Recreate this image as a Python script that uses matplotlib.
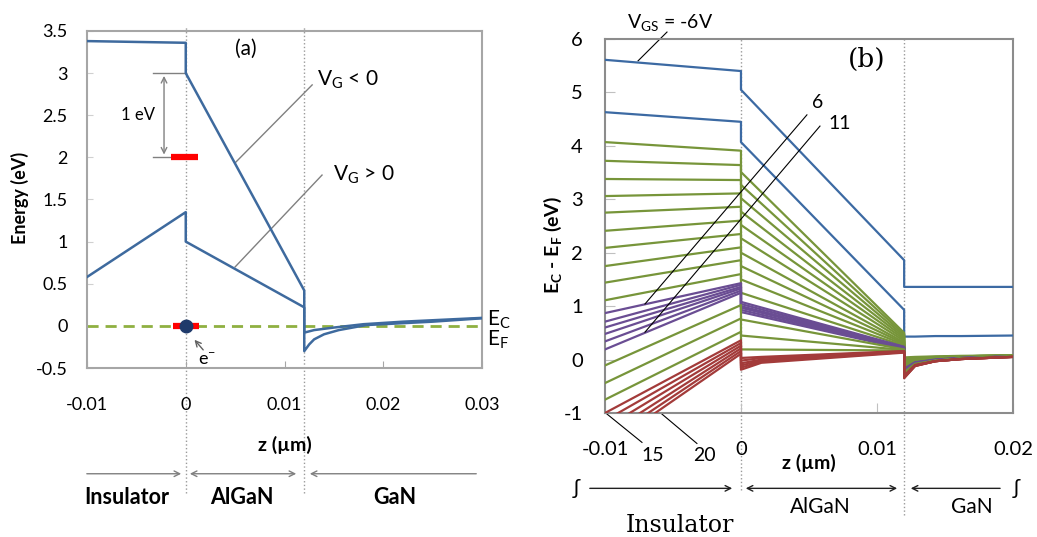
import matplotlib
matplotlib.use('Agg')
import matplotlib.pyplot as plt

plt.rcParams['font.family'] = ['Lato', 'DejaVu Sans']
plt.rcParams['mathtext.fontset'] = 'custom'
plt.rcParams['mathtext.rm'] = 'Lato'
plt.rcParams['mathtext.it'] = 'Lato:italic'
plt.rcParams['mathtext.bf'] = 'Lato:bold'

# ---------------- panel (a) data ----------------
a_z_neg = [-0.01, 0, 0, 0.012, 0.012, 0.013, 0.015, 0.018, 0.022, 0.03]
a_e_neg = [3.38, 3.36, 3.0, 0.42, -0.08, -0.05, -0.02, 0.02, 0.05, 0.095]
a_z_pos = [-0.01, 0, 0, 0.012, 0.012, 0.0125, 0.013, 0.014, 0.0155, 0.0183, 0.025, 0.03]
a_e_pos = [0.58, 1.35, 1.0, 0.22, -0.30, -0.22, -0.16, -0.10, -0.05, 0.01, 0.05, 0.09]
a_xticks = [-0.01, 0, 0.01, 0.02, 0.03]
a_xticklabels = ['-0.01', '0', '0.01', '0.02', '0.03']
a_yticks = [-0.5, 0, 0.5, 1, 1.5, 2, 2.5, 3, 3.5]
a_yticklabels = ['-0.5', '0', '0.5', '1', '1.5', '2', '2.5', '3', '3.5']

# ---------------- panel (b) data ----------------
# one line per V_GS step, -6 V ... 20 V
vgs = [-6, -5, -4, -3, -2, -1, 0, 1, 2, 3, 4, 5, 6, 7, 8, 9, 10, 11,
       12, 13, 14, 15, 16, 17, 18, 19, 20]
line_group = (['blue'] * 2 + ['green'] * 10 + ['purple'] * 6
              + ['green'] * 3 + ['red'] * 6)

# insulator, z = -0.01
ins_left = [5.61, 4.63,
            4.07, 3.72, 3.38, 3.06, 2.75, 2.41, 2.09, 1.75, 1.44, 1.11,
            0.87, 0.71, 0.60, 0.48, 0.34, 0.19,
            -0.11, -0.44, -0.75,
            -1.0, -1.14, -1.28, -1.42, -1.54, -1.65]
# insulator side of z = 0
ins_right = [5.40, 4.45,
             3.91, 3.64, 3.36, 3.11, 2.86, 2.60, 2.35, 2.10, 1.86, 1.60,
             1.43, 1.40, 1.36, 1.33, 1.29, 1.25,
             1.02, 0.77, 0.52,
             0.36, 0.31, 0.26, 0.21, 0.16, 0.11]
# AlGaN side of z = 0
alg_left = [5.05, 4.07,
            3.51, 3.27, 3.02, 2.77, 2.52, 2.27, 2.00, 1.75, 1.50, 1.25,
            1.08, 1.04, 1.00, 0.97, 0.93, 0.89,
            0.75, 0.45, 0.19,
            0.03, -0.02, -0.07, -0.11, -0.15, -0.19]
# red lines bend near the interface (z = 0.0015)
red_knee_z = 0.0015
red_knee = [0.05, 0.03, 0.0, -0.02, -0.04, -0.06]
# AlGaN side of z = 0.012
alg_right = [1.86, 0.93,
             0.50, 0.47, 0.44, 0.41, 0.38, 0.35, 0.32, 0.30, 0.28, 0.26,
             0.24, 0.23, 0.22, 0.22, 0.21, 0.20,
             0.19, 0.18, 0.17,
             0.16, 0.15, 0.15, 0.14, 0.14, 0.13]
# GaN
gan_z = [0.012, 0.0128, 0.0143, 0.0162, 0.02]
gan_e = [
    [1.36, 1.36, 1.36, 1.36, 1.36],
    [0.43, 0.43, 0.44, 0.44, 0.45],
    [0.04, 0.05, 0.06, 0.07, 0.08],
    [0.02, 0.04, 0.05, 0.06, 0.08],
    [0.00, 0.03, 0.05, 0.06, 0.08],
    [-0.02, 0.02, 0.04, 0.06, 0.08],
    [-0.04, 0.01, 0.04, 0.06, 0.08],
    [-0.06, 0.00, 0.03, 0.05, 0.07],
    [-0.08, -0.01, 0.03, 0.05, 0.07],
    [-0.10, -0.02, 0.02, 0.05, 0.07],
    [-0.12, -0.03, 0.02, 0.04, 0.07],
    [-0.14, -0.04, 0.01, 0.04, 0.07],
    [-0.17, -0.05, 0.00, 0.03, 0.06],
    [-0.18, -0.06, 0.00, 0.03, 0.06],
    [-0.19, -0.06, -0.01, 0.03, 0.06],
    [-0.20, -0.07, -0.01, 0.02, 0.06],
    [-0.21, -0.07, -0.01, 0.02, 0.06],
    [-0.22, -0.08, -0.02, 0.02, 0.06],
    [-0.24, -0.08, -0.02, 0.02, 0.06],
    [-0.26, -0.09, -0.02, 0.02, 0.06],
    [-0.28, -0.10, -0.02, 0.02, 0.06],
    [-0.30, -0.10, -0.03, 0.01, 0.05],
    [-0.31, -0.11, -0.03, 0.01, 0.05],
    [-0.32, -0.11, -0.03, 0.01, 0.05],
    [-0.33, -0.12, -0.03, 0.01, 0.05],
    [-0.34, -0.12, -0.03, 0.01, 0.05],
    [-0.35, -0.12, -0.03, 0.01, 0.05],
]
b_xticks = [-0.01, 0, 0.01, 0.02]
b_xticklabels = ['-0.01', '0', '0.01', '0.02']
b_yticks = [-1, 0, 1, 2, 3, 4, 5, 6]
b_yticklabels = ['-1', '0', '1', '2', '3', '4', '5', '6']

colors = {'blue': '#3C6AA3', 'green': '#77953A', 'purple': '#6A4D93', 'red': '#A33B3A'}

fig = plt.figure(figsize=(10.37, 5.37), dpi=100)

# ================= panel (a) =================
ax = fig.add_axes([0.0839, 0.3147, 0.3809, 0.6276])
ax.set_xlim(-0.01, 0.03)
ax.set_ylim(-0.5, 3.5)
for s in ax.spines.values():
    s.set_color('#A6A6A6')
    s.set_linewidth(1.5)
ax.set_xticks(a_xticks)
ax.set_xticklabels(a_xticklabels)
ax.set_yticks(a_yticks)
ax.set_yticklabels(a_yticklabels)
ax.tick_params(axis='x', direction='in', length=5, color='#A6A6A6', pad=21, labelsize=13)
ax.tick_params(axis='y', direction='in', length=4, color='#D0D0D0', pad=14, labelsize=13)

# dotted layer boundaries
for zb in [0, 0.012]:
    ax.plot([zb, zb], [-1.98, 3.55], ls=':', color='#9A9A9A', lw=1, clip_on=False, zorder=1)

ax.plot([-0.01, 0.03], [0, 0], ls=(0, (4, 2.5)), color='#8FB041', lw=2, zorder=2)
ax.plot(a_z_neg, a_e_neg, color='#3E6A9E', lw=1.8, zorder=3)
ax.plot(a_z_pos, a_e_pos, color='#3E6A9E', lw=1.8, zorder=3)

# trap level and electron
ax.plot([-0.0015, 0.0012], [2, 2], color='#FF0000', lw=4.5, solid_capstyle='butt', zorder=4)
ax.plot([-0.0013, 0.0013], [0, 0], color='#FF0000', lw=4.5, solid_capstyle='butt', zorder=4)
ax.plot([0], [0], 'o', color='#1F3A6B', ms=9, zorder=5)

# 1 eV dimension
ax.plot([-0.0033, 0], [3, 3], color='#808080', lw=1)
ax.plot([-0.0033, -0.0016], [2, 2], color='#808080', lw=1)
ax.annotate('', xy=(-0.0022, 2.0), xytext=(-0.0022, 3.0),
            arrowprops=dict(arrowstyle='<->', color='#808080', lw=1))
ax.text(-0.0048, 2.5, '1 eV', fontsize=12, ha='center', va='center')
ax.text(0.0061, 3.29, '(a)', fontsize=15, ha='center', va='center')

ax.plot([0.0128, 0.00499], [2.86, 1.934], color='#808080', lw=1)
ax.text(0.0133, 2.925, r'$\mathrm{V_G}$ < 0', fontsize=15, ha='left', va='center')
ax.plot([0.0138, 0.0050], [1.79, 0.70], color='#808080', lw=1)
ax.text(0.0149, 1.79, r'$\mathrm{V_G}$ > 0', fontsize=15, ha='left', va='center')

ax.text(0.0305, 0.07, r'$\mathrm{E_C}$', fontsize=15, ha='left', va='center')
ax.text(0.0305, -0.17, r'$\mathrm{E_F}$', fontsize=15, ha='left', va='center')
ax.annotate('', xy=(0.0007, -0.14), xytext=(0.00195, -0.31),
            arrowprops=dict(arrowstyle='->', color='#606060', lw=1))
ax.text(0.00215, -0.40, r'$\mathrm{e^{-}}$', fontsize=13, ha='center', va='center')

ax.text(0.5, -0.228, 'z (µm)', transform=ax.transAxes, fontsize=14,
        fontweight='bold', ha='center', va='center')
ax.text(-0.17, 0.504, 'Energy (eV)', transform=ax.transAxes, fontsize=13,
        fontweight='bold', ha='center', va='center', rotation=90)

# layer arrows
ap = dict(color='#808080', lw=1)
ax.annotate('', xy=(-0.00018, -1.755), xytext=(-0.0103, -1.755),
            arrowprops=dict(arrowstyle='->', **ap), annotation_clip=False)
ax.annotate('', xy=(0.01147, -1.755), xytext=(0.00013, -1.755),
            arrowprops=dict(arrowstyle='<->', **ap), annotation_clip=False)
ax.annotate('', xy=(0.01228, -1.755), xytext=(0.0297, -1.755),
            arrowprops=dict(arrowstyle='->', **ap), annotation_clip=False)
for zt, name in [(-0.00595, 'Insulator'), (0.0057, 'AlGaN'), (0.0212, 'GaN')]:
    ax.text(zt, -2.04, name, fontsize=15.5, fontweight='bold', ha='center', va='center')

# ================= panel (b) =================
bx = fig.add_axes([0.5834, 0.2309, 0.3934, 0.6965])
bx.set_xlim(-0.01, 0.02)
bx.set_ylim(-1, 6)
for s in bx.spines.values():
    s.set_color('#8C8C8C')
    s.set_linewidth(1.5)
bx.set_xticks(b_xticks)
bx.set_xticklabels(b_xticklabels)
bx.set_yticks(b_yticks)
bx.set_yticklabels(b_yticklabels)
bx.tick_params(axis='x', direction='in', length=7, color='#C0C0C0', pad=20, labelsize=14.5)
bx.tick_params(axis='y', direction='in', length=7, color='#C0C0C0', pad=16, labelsize=14.5)

bx.plot([0, 0], [-2.45, 6], ls=':', color='#9A9A9A', lw=1, clip_on=False, zorder=1)
bx.plot([0.012, 0.012], [-2.9, 6], ls=':', color='#9A9A9A', lw=1, clip_on=False, zorder=1)

red_i = 0
for i in range(len(vgs)):
    zs = [-0.01, 0, 0]
    es = [ins_left[i], ins_right[i], alg_left[i]]
    if line_group[i] == 'red':
        zs.append(red_knee_z)
        es.append(red_knee[red_i])
        red_i += 1
    zs = zs + [0.012] + gan_z
    es = es + [alg_right[i]] + gan_e[i]
    bx.plot(zs, es, color=colors[line_group[i]], lw=1.6, zorder=3)

lk = dict(color='black', lw=0.8)
bx.plot([-0.00544, -0.00757], [6.13, 5.59], clip_on=False, **lk)
bx.text(-0.00522, 6.30, r'$\mathrm{V_{GS}}$ = -6V', fontsize=14, ha='center', va='center')
bx.text(0.00926, 5.61, '(b)', fontsize=19, family='DejaVu Serif', ha='center', va='center')
bx.plot([0.00485, -0.00706], [4.58, 1.04], zorder=4, **lk)
bx.text(0.00566, 4.82, '6', fontsize=14, ha='center', va='center')
bx.plot([0.00581, -0.00706], [4.37, 0.513], zorder=4, **lk)
bx.text(0.00728, 4.41, '11', fontsize=14, ha='center', va='center')
bx.plot([-0.00985, -0.00728], [-1.02, -1.55], clip_on=False, **lk)
bx.text(-0.00647, -1.79, '15', fontsize=14, ha='center', va='center')
bx.plot([-0.00581, -0.00324], [-1.02, -1.57], clip_on=False, **lk)
bx.text(-0.00265, -1.79, '20', fontsize=14, ha='center', va='center')

bx.text(0.5, -0.134, 'z (µm)', transform=bx.transAxes, fontsize=14,
        fontweight='bold', ha='center', va='center')
bx.text(-0.127, 0.449, r'$\mathbf{E_C}$ - $\mathbf{E_F}$ (eV)', transform=bx.transAxes,
        fontsize=14, fontweight='bold', ha='center', va='center', rotation=90)

bp = dict(color='#202020', lw=1)
bx.annotate('', xy=(-0.00044, -2.41), xytext=(-0.01132, -2.41),
            arrowprops=dict(arrowstyle='->', **bp), annotation_clip=False)
bx.annotate('', xy=(0.01169, -2.41), xytext=(0.000147, -2.41),
            arrowprops=dict(arrowstyle='<->', **bp), annotation_clip=False)
bx.annotate('', xy=(0.01228, -2.41), xytext=(0.01926, -2.41),
            arrowprops=dict(arrowstyle='->', **bp), annotation_clip=False)
bx.text(-0.01213, -2.41, 'ʃ', fontsize=15, ha='center', va='center')
bx.text(0.02022, -2.41, 'ʃ', fontsize=15, ha='center', va='center')
bx.text(0.00581, -2.764, 'AlGaN', fontsize=15, ha='center', va='center')
bx.text(0.01699, -2.764, 'GaN', fontsize=15, ha='center', va='center')
bx.text(-0.00449, -3.10, 'Insulator', fontsize=17, family='DejaVu Serif',
        ha='center', va='center')

fig.savefig('out.png', dpi=100)
